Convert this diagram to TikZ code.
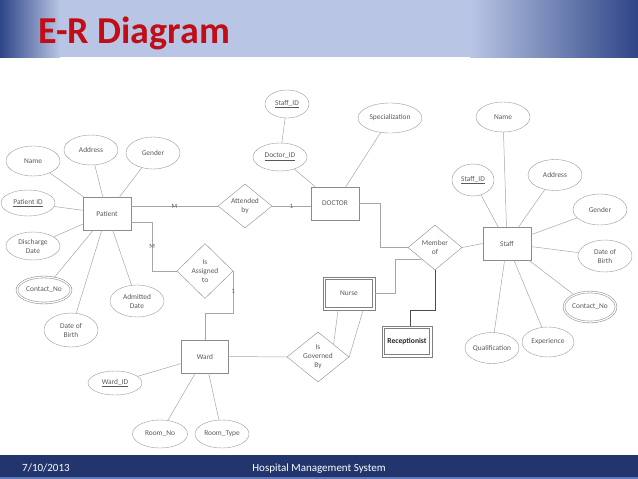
\documentclass[tikz,border=0pt]{standalone}
\usepackage{fontspec}
\setmainfont{Carlito}
\usetikzlibrary{shapes.geometric}
\definecolor{headdark}{HTML}{2E4587}
\definecolor{headlight}{HTML}{B9C5E4}
\definecolor{footblue}{HTML}{22356C}
\definecolor{footline}{HTML}{5F78B8}
\definecolor{titlered}{HTML}{C00D16}
\begin{document}
\begin{tikzpicture}[x=1pt,y=-1pt,
		every node/.style={font=\fontsize{7.4}{9}\selectfont, text=black!65},
		entity/.style={draw=black!45, rectangle, minimum width=48pt, minimum height=33pt, inner sep=0pt},
		weakbox/.style={entity, draw=black!50, line width=0.8pt,
			path picture={\draw[black!50, line width=0.8pt] ([shift={(2.6pt,-2.6pt)}]path picture bounding box.north west) rectangle ([shift={(-2.6pt,2.6pt)}]path picture bounding box.south east);}},
		attr/.style={draw=black!40, ellipse, minimum width=54pt, minimum height=29pt, inner sep=0pt, align=center},
		multi/.style={attr, line width=0.6pt, double=white, double distance=1.2pt},
		rel/.style={draw=black!45, diamond, aspect=1.2, inner sep=0pt, align=center},
		link/.style={draw=black!35, line width=0.5pt},
		card/.style={font=\fontsize{6.5}{6.5}\selectfont, inner sep=1pt}]
	\useasboundingbox (0,0) rectangle (638,479);
	\fill[headlight] (0,0) rectangle (638,57);
	\shade[left color=headdark, right color=headlight] (0,0) rectangle (60,57);
	\shade[left color=headlight, right color=headdark] (470,0) rectangle (638,57);
	\node[anchor=base west, font=\fontsize{38}{40}\selectfont\bfseries, text=titlered, inner sep=0pt] (title) at (38,43) {E-R Diagram};
	\fill[footblue] (0,455) rectangle (638,479);
	\fill[footline] (0,477) rectangle (638,479);
	\node[anchor=base west, font=\fontsize{11}{12}\selectfont, text=white, inner sep=0pt] (date) at (22,471) {7/10/2013};
	\node[anchor=base, font=\fontsize{11}{12}\selectfont, text=white, inner sep=0pt] (system) at (319,471) {Hospital Management System};
	\node[entity] (patient) at (107,213.5) {Patient};
	\node[attr, minimum height=30pt] (pname) at (33,161) {Name};
	\node[attr, minimum height=30pt] (paddr) at (91,150) {Address};
	\node[attr, minimum height=32pt] (pgender) at (153,153) {Gender};
	\node[attr, minimum height=26pt] (pid) at (28,203) {\underline{Patient ID}};
	\node[attr, minimum height=28pt] (pdisch) at (33,246) {Discharge\\Date};
	\node[multi, minimum height=26pt] (pcontact) at (44,290) {Contact\_No};
	\node[attr, minimum height=32pt] (padmit) at (137,301) {Admitted\\Date};
	\node[attr, minimum height=34pt] (pdob) at (71,330) {Date of\\Birth};
	\node[rel, minimum width=54pt, minimum height=44pt] (attended) at (245,206) {Attended\\by};
	\node[entity] (doctor) at (335,203.5) {DOCTOR};
	\node[attr, minimum height=28pt] (doctorid) at (280,157) {\underline{Doctor\_ID}};
	\node[attr, minimum width=44pt, minimum height=28pt] (dstaffid) at (287,104) {\underline{Staff\_ID}};
	\node[attr, minimum width=64pt, minimum height=30pt] (special) at (390,118) {Specialization};
	\node[rel, minimum width=54pt, minimum height=45pt] (member) at (435,247.5) {Member\\of};
	\node[entity] (staff) at (507,243.5) {Staff};
	\node[attr, minimum height=30pt] (sname) at (503,117) {Name};
	\node[attr, minimum width=42pt, minimum height=32pt] (sid) at (473,180) {\underline{Staff\_ID}};
	\node[attr, minimum height=31pt] (saddr) at (555,175) {Address};
	\node[attr, minimum height=31pt] (sgender) at (600,209.5) {Gender};
	\node[attr, minimum height=32pt] (sdob) at (605,256) {Date of\\Birth};
	\node[multi, minimum width=52pt, minimum height=30pt] (scontact) at (590,307) {Contact\_No};
	\node[attr, minimum width=52pt, minimum height=30pt] (sexp) at (548,342) {Experience};
	\node[attr, minimum width=52pt, minimum height=31pt] (squal) at (492,348) {Qualification};
	\node[weakbox, minimum width=52pt] (nurse) at (349,293.5) {Nurse};
	\node[weakbox, minimum width=50pt, minimum height=31pt, text=black!85, font=\fontsize{7.6}{8}\selectfont\bfseries] (recep) at (407,341.5) {Receptionist};
	\node[rel, minimum width=62pt, minimum height=50pt] (governed) at (318,357) {Is\\Governed\\By};
	\node[entity, minimum width=47pt] (ward) at (205,356.5) {Ward};
	\node[rel, minimum width=56pt, minimum height=55pt] (assigned) at (205,271) {Is\\Assigned\\to};
	\node[attr, minimum height=24pt] (wardid) at (115,383) {\underline{Ward\_ID}};
	\node[attr, minimum width=55pt, minimum height=28pt] (roomno) at (160,434) {Room\_No};
	\node[attr, minimum height=28pt] (roomtype) at (222,434) {Room\_Type};
	\draw[link] (patient) -- (pname);
	\draw[link] (patient) -- (paddr);
	\draw[link] (patient) -- (pgender);
	\draw[link] (patient) -- (pid);
	\draw[link] (patient) -- (pdisch);
	\draw[link] (patient) -- (pcontact);
	\draw[link] (patient) -- (padmit);
	\draw[link] (patient) -- (pdob);
	\draw[link] (dstaffid) -- (doctorid);
	\draw[link] (doctorid) -- (doctor);
	\draw[link] (special) -- (doctor);
	\draw[link] (staff) -- (sname);
	\draw[link] (staff) -- (sid);
	\draw[link] (staff) -- (saddr);
	\draw[link] (staff) -- (sgender);
	\draw[link] (staff) -- (sdob);
	\draw[link] (staff) -- (scontact);
	\draw[link] (staff) -- (sexp);
	\draw[link] (staff) -- (squal);
	\draw[link] (ward) -- (wardid);
	\draw[link] (ward) -- (roomno);
	\draw[link] (ward) -- (roomtype);
	\draw[link] (patient.east |- attended.west) -- node[card] {M} (attended.west);
	\draw[link] (attended.east) -- node[card] {1} (doctor.west |- attended.east);
	\draw[link] (doctor.east) -- ++(21,0) |- (member.west);
	\draw[link] (member.east) -- (staff.west);
	\draw[link] (member.south west) -- ++(-26,0) |- (nurse.east);
	\draw[link, draw=black!70, line width=0.7pt] (member.south) -- ++(0,40) -| ([xshift=3pt]recep.north);
	\draw[link] ([xshift=-11pt]nurse.south) -- (governed.north east);
	\draw[link] ([xshift=14pt]nurse.south) -- (governed.east);
	\draw[link] (ward.east) -- (governed.west);
	\draw[link] (ward.north) -- ++(0,-27) -| node[card, pos=0.75] {1} (assigned.east);
	\draw[link] (patient.-20) -- ++(21,0) |- node[card, pos=0.25] {M} (assigned.west);
\end{tikzpicture}
\end{document}
